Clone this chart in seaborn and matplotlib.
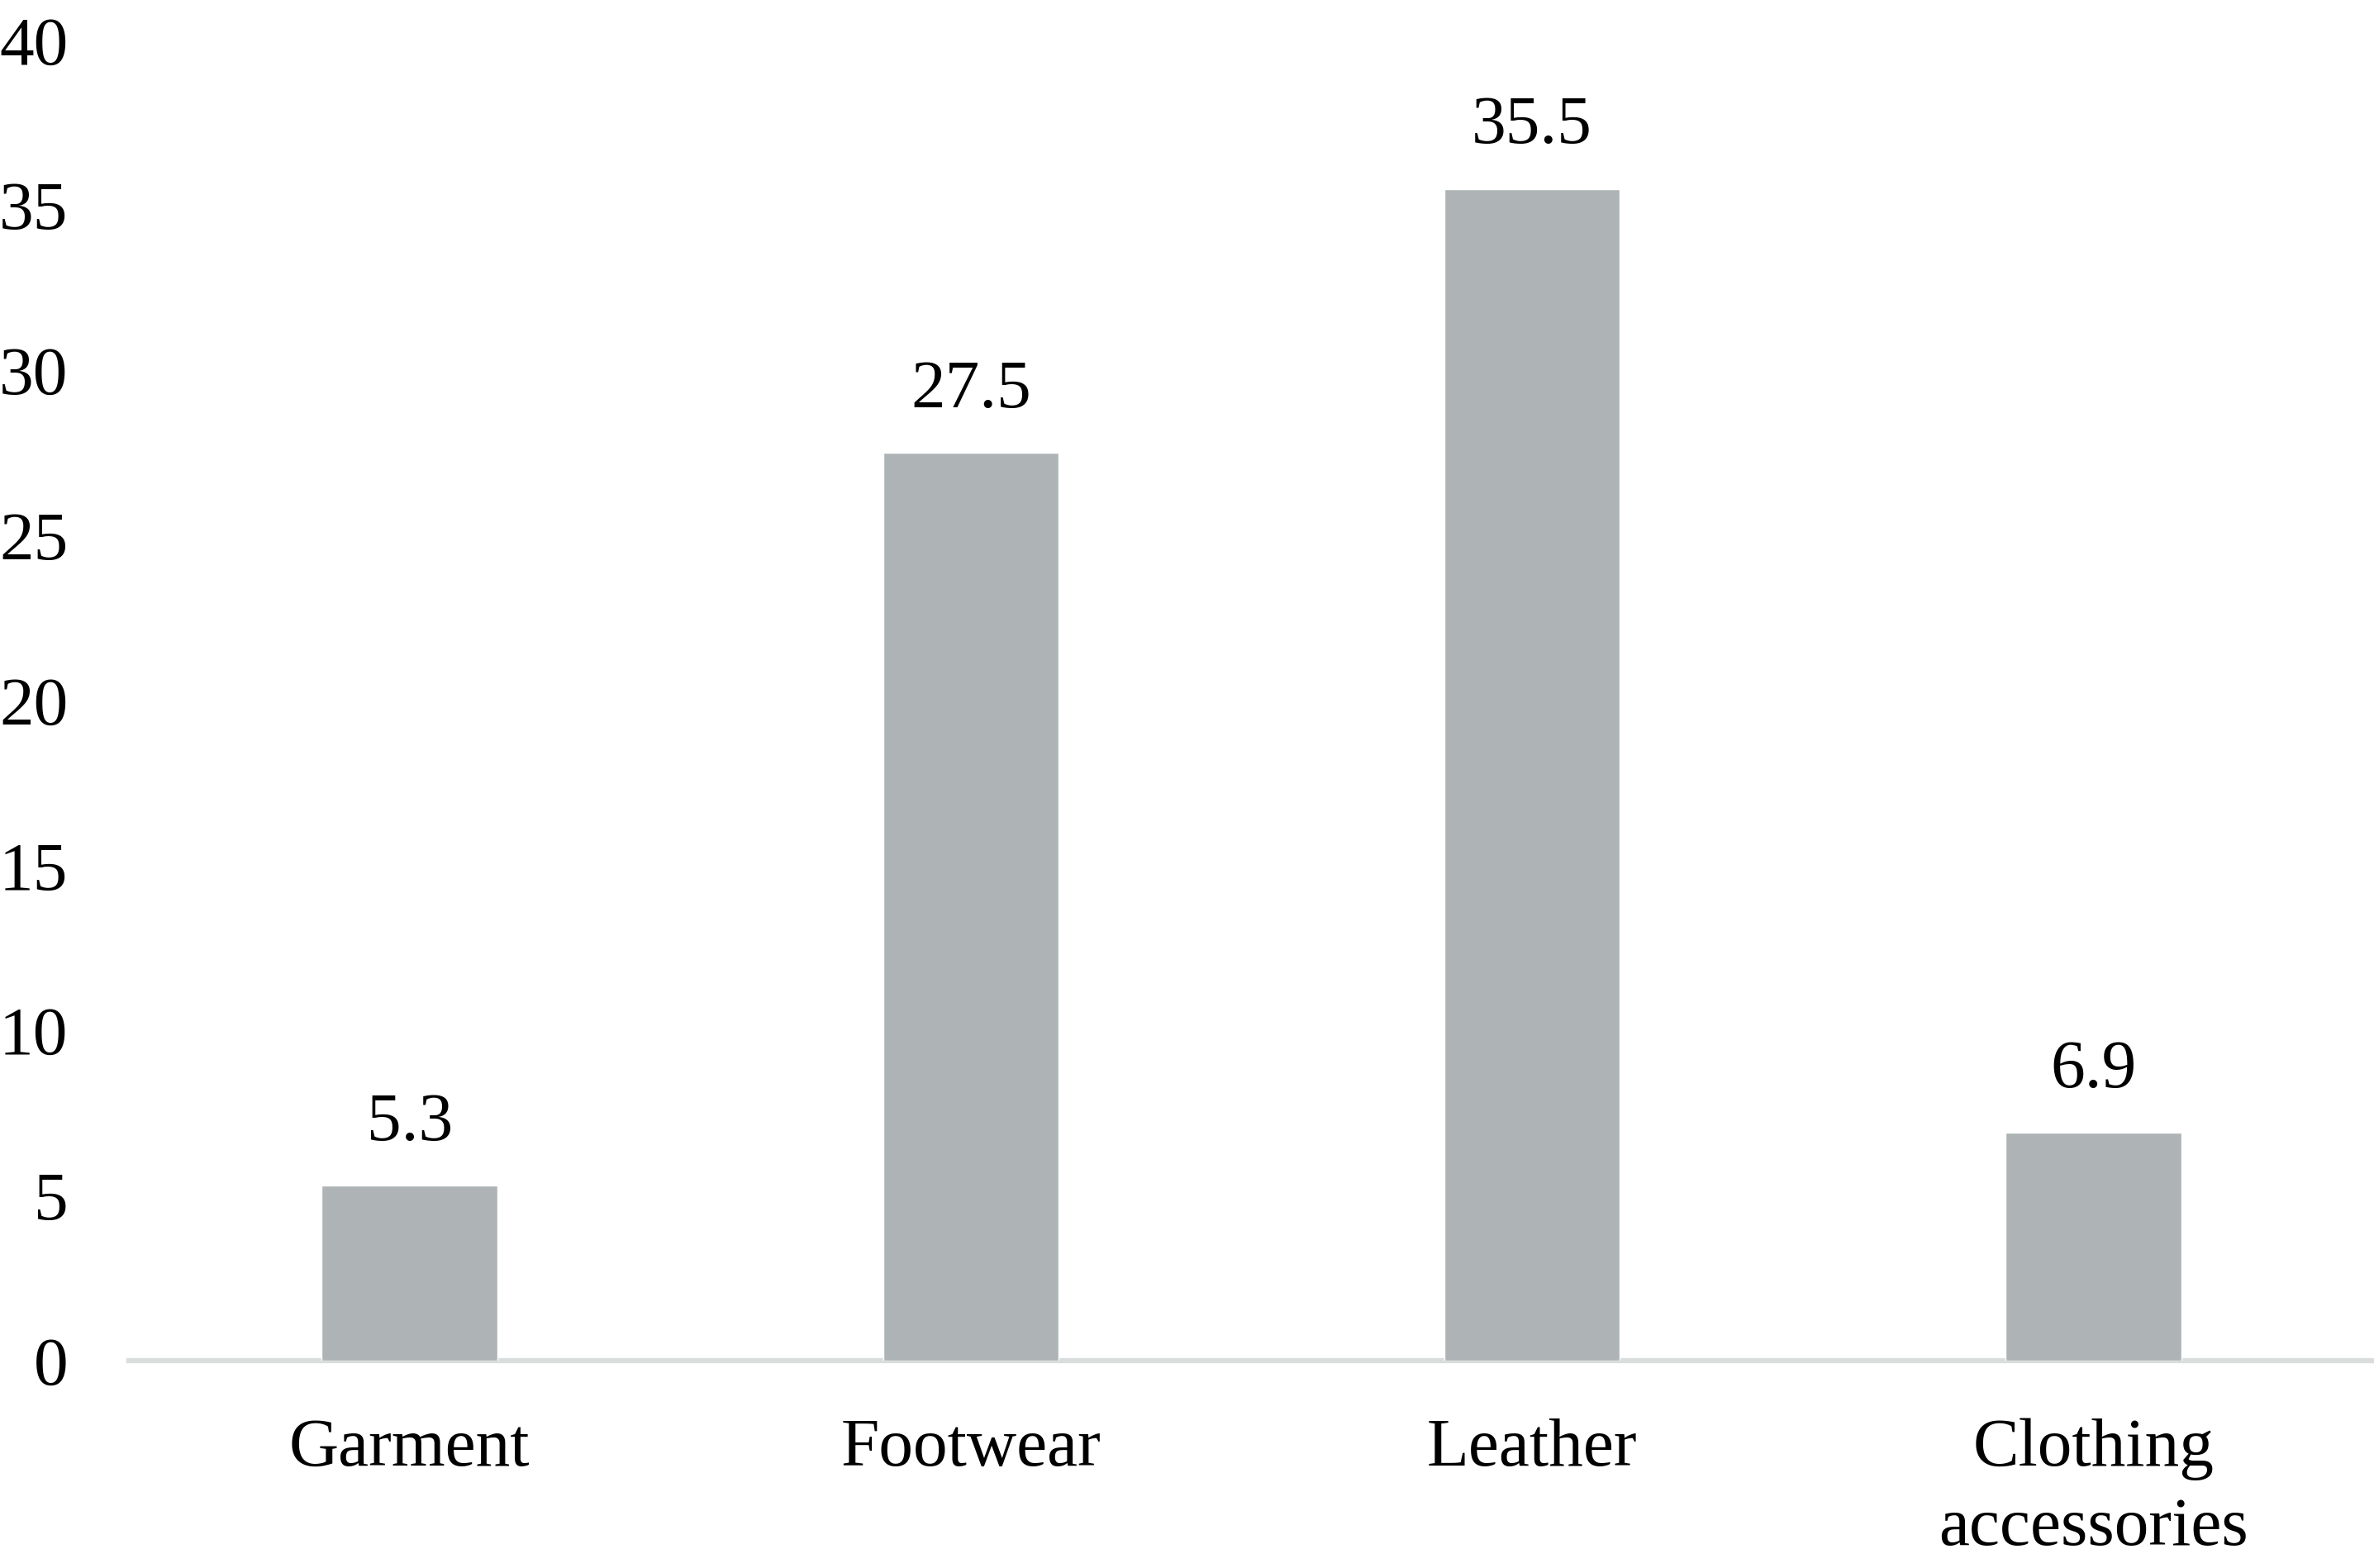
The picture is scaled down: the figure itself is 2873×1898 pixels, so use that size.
import matplotlib
matplotlib.use("Agg")
import matplotlib.pyplot as plt
import seaborn as sns
import pandas as pd

categories = ["Garment", "Footwear", "Leather", "Clothing\naccessories"]
values = [5.3, 27.5, 35.5, 6.9]
y_ticks = [0, 5, 10, 15, 20, 25, 30, 35, 40]

sns.set_theme(style="white")
plt.rcParams["font.family"] = ["Liberation Serif", "DejaVu Serif"]

df = pd.DataFrame({"Category": categories, "Value": values})

fig = plt.figure(figsize=(28.73, 18.98), dpi=100)
ax = fig.add_axes([0.0543, 0.1322, 0.9457, 0.842])

sns.barplot(data=df, x="Category", y="Value", color="#AEB4B5", saturation=1,
            width=0.313, ax=ax, zorder=3)

for c in ax.containers:
    ax.bar_label(c, labels=[f"{v:.1f}" for v in values], padding=27,
                 fontsize=60, color="black")

ax.set_xlim(-0.5, 3.5)
ax.set_ylim(0, 40)
ax.set_yticks(y_ticks)
ax.set_yticklabels([str(t) for t in y_ticks])
ax.set_xlabel("")
ax.set_ylabel("")

for s in ["top", "right", "left"]:
    ax.spines[s].set_visible(False)
ax.spines["bottom"].set_color("#D9DDDD")
ax.spines["bottom"].set_linewidth(4.5)
ax.spines["bottom"].set_zorder(1)

ax.tick_params(axis="y", length=0, pad=53, labelsize=60, labelcolor="black")
ax.tick_params(axis="x", length=0, pad=50, labelsize=60, labelcolor="black")
for lbl in ax.get_xticklabels():
    lbl.set_linespacing(1.35)

fig.savefig("out.png", dpi=100, facecolor="white")
